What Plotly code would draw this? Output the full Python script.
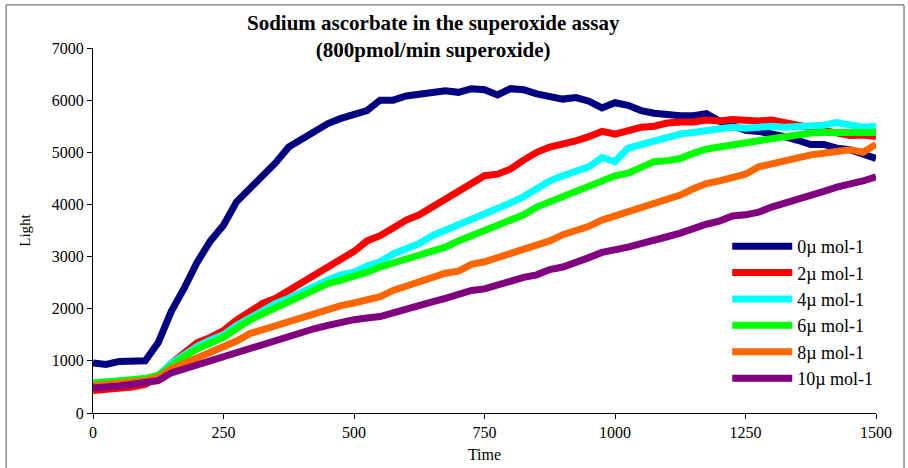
import plotly.graph_objects as go

time = list(range(0, 1501, 25))

s0 = [960, 930, 990, 1010, 1000, 1350, 1950, 2400, 2900, 3300, 3600, 4050, 4300, 4550, 4800, 5100,
      5250, 5380, 5550, 5650, 5720, 5800, 6000, 6000, 6080, 6120, 6150, 6180, 6150, 6220, 6200, 6100,
      6220, 6200, 6120, 6080, 6020, 6050, 5980, 5850, 5950, 5900, 5800, 5750, 5720, 5700, 5700, 5740,
      5600, 5500, 5420, 5400, 5360, 5300, 5230, 5150, 5150, 5080, 5050, 4980, 4880]
s2 = [430, 450, 470, 500, 550, 700, 950, 1150, 1350, 1450, 1580, 1780, 1950, 2100, 2200, 2350,
      2500, 2650, 2800, 2950, 3100, 3300, 3400, 3550, 3700, 3800, 3950, 4100, 4250, 4400, 4550, 4580,
      4680, 4850, 5000, 5100, 5150, 5220, 5300, 5400, 5350, 5420, 5480, 5500, 5560, 5580, 5580, 5620,
      5600, 5630, 5610, 5600, 5620, 5560, 5500, 5470, 5420, 5380, 5320, 5330, 5300]
s4 = [580, 590, 610, 630, 660, 720, 950, 1120, 1280, 1400, 1500, 1680, 1830, 1950, 2100, 2200,
      2320, 2450, 2550, 2650, 2700, 2820, 2900, 3050, 3150, 3250, 3400, 3500, 3600, 3720, 3800, 3900,
      4030, 4150, 4300, 4450, 4550, 4650, 4720, 4900, 4820, 5080, 5150, 5230, 5300, 5350, 5380, 5430,
      5450, 5480, 5460, 5480, 5500, 5480, 5490, 5530, 5520, 5570, 5530, 5480, 5500]
s6 = [570, 590, 610, 640, 660, 720, 920, 1080, 1230, 1350, 1450, 1620, 1780, 1900, 2020, 2150,
      2250, 2380, 2480, 2550, 2620, 2700, 2800, 2880, 2950, 3020, 3100, 3180, 3300, 3400, 3470, 3580,
      3700, 3800, 3950, 4050, 4150, 4270, 4380, 4480, 4550, 4600, 4700, 4820, 4840, 4880, 4980, 5060,
      5100, 5150, 5200, 5220, 5260, 5300, 5330, 5370, 5380, 5380, 5360, 5370, 5380]
s8 = [520, 540, 560, 580, 620, 680, 850, 950, 1050, 1150, 1250, 1380, 1520, 1600, 1680, 1750,
      1820, 1900, 1980, 2060, 2110, 2180, 2230, 2350, 2430, 2520, 2580, 2680, 2720, 2850, 2900, 2980,
      3070, 3150, 3220, 3300, 3420, 3500, 3580, 3700, 3780, 3850, 3950, 4020, 4100, 4180, 4300, 4400,
      4450, 4500, 4580, 4720, 4780, 4850, 4880, 4950, 4980, 5020, 5050, 5000, 5150]
s10 = [480, 490, 520, 550, 580, 620, 770, 850, 920, 1000, 1080, 1150, 1250, 1330, 1400, 1480,
       1550, 1620, 1680, 1750, 1790, 1820, 1850, 1920, 1980, 2050, 2130, 2200, 2270, 2350, 2380, 2460,
       2550, 2600, 2650, 2750, 2800, 2880, 2980, 3080, 3120, 3180, 3250, 3300, 3380, 3450, 3550, 3620,
       3680, 3780, 3800, 3850, 3950, 4020, 4080, 4150, 4250, 4330, 4380, 4450, 4530]

names = ["0µ mol-1", "2µ mol-1", "4µ mol-1", "6µ mol-1", "8µ mol-1", "10µ mol-1"]
colors = ["#000080", "#FF0000", "#00FFFF", "#00FF00", "#FF6600", "#800080"]
series = [s0, s2, s4, s6, s8, s10]

x_ticks = [0, 250, 500, 750, 1000, 1250, 1500]
y_ticks = [0, 1000, 2000, 3000, 4000, 5000, 6000, 7000]

FONT = "Liberation Serif, 'Times New Roman', Times, serif"

fig = go.Figure()
for nm, col, ys in zip(names, colors, series):
    fig.add_trace(go.Scatter(x=time, y=ys, name=nm, mode="lines",
                             line=dict(color=col, width=7)))

fig.update_layout(
    width=908, height=468,
    margin=dict(l=93, r=32, t=48, b=55),
    paper_bgcolor="white", plot_bgcolor="white",
    font=dict(family=FONT, color="black", size=15),
    showlegend=True,
    legend=dict(x=0.81, y=0.507, xanchor="left", yanchor="top",
                bgcolor="rgba(0,0,0,0)", font=dict(family=FONT, size=18),
                itemwidth=60, tracegroupgap=3),
    annotations=[dict(text="<b>Sodium ascorbate in the superoxide assay<br>(800pmol/min superoxide)</b>",
                      xref="paper", yref="paper", x=0.4355, y=1.108,
                      xanchor="center", yanchor="top", showarrow=False,
                      font=dict(family=FONT, size=21, color="black"))],
)
fig.update_xaxes(range=[0, 1500], tickvals=x_ticks, showgrid=False, zeroline=False,
                 showline=True, linecolor="black", linewidth=1.3, automargin=False,
                 ticks="outside", ticklen=5, tickcolor="black",
                 title=dict(text="Time", standoff=8, font=dict(family=FONT, size=16)),
                 tickfont=dict(family=FONT, size=16))
fig.update_yaxes(range=[0, 7000], tickvals=y_ticks, showgrid=False, zeroline=False,
                 showline=True, linecolor="black", linewidth=1.3, automargin=False,
                 ticks="outside", ticklen=5, tickcolor="black",
                 title=dict(text="Light", standoff=17, font=dict(family=FONT, size=15)),
                 tickfont=dict(family=FONT, size=16))

fig.add_shape(type="rect", xref="paper", yref="paper",
              x0=-0.111, x1=1.0358, y0=-0.2, y1=1.118,
              line=dict(color="#555555", width=1), fillcolor="rgba(0,0,0,0)", layer="below")

fig.write_html("out.html")
